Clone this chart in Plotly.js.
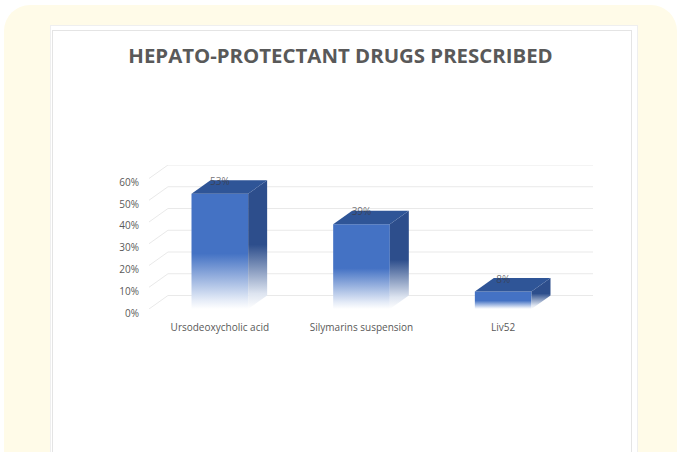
<!DOCTYPE html>
<html>
<head>
<meta charset="utf-8">
<script src="https://cdn.plot.ly/plotly-3.0.1.min.js"></script>
<style>
  html, body { margin:0; padding:0; background:#ffffff; width:677px; height:452px; overflow:hidden; }
  #cream { position:absolute; left:4px; top:5px; width:673px; height:520px; background:#fffbe8; border-radius:26px; }
  #card { position:absolute; left:50px; top:25px; width:586px; height:500px; background:#ffffff; border:1px solid #efefef; }
  #inner { position:absolute; left:52px; top:30px; width:578px; height:500px; background:#ffffff; border:1px solid #e4e4e4; }
  #chart { position:absolute; left:0; top:0; width:677px; height:452px; }
</style>
</head>
<body>
<div id="cream"></div>
<div id="card"></div>
<div id="inner"></div>
<div id="chart"></div>
<script>
// ---- data ----
const categories = ["Ursodeoxycholic acid", "Silymarins suspension", "Liv52"];
const values = [53, 39, 8];           // percent
const valueLabels = ["53%", "39%", "8%"];
const yTicks = [0, 10, 20, 30, 40, 50, 60];
const yTickLabels = ["0%", "10%", "20%", "30%", "40%", "50%", "60%"];
const chartTitle = "HEPATO-PROTECTANT DRUGS PRESCRIBED";

// ---- 3D projection settings (styling) ----
const barW = 0.40;   // bar width in category units
const dX = 0.134;    // depth offset in category units
const dY = 6.2;      // depth offset in value units
const yMax = 60;

const frontColor = "#4472C4";
const sideColor = "#2D4E8C";
const topColor = "#2F5597";
const gridColor = "#e9e9e9";

const traces = [];

// gridlines (side wall diagonal + back wall horizontal)
const gx = [], gy = [];
yTicks.forEach(v => {
  gx.push(-0.5, -0.5 + dX, 2.5 + dX, null);
  gy.push(v, v + dY, v + dY, null);
});
traces.push({type:"scatter", mode:"lines", x:gx, y:gy, line:{color:gridColor, width:1},
  hoverinfo:"skip", showlegend:false, cliponaxis:false});

categories.forEach((c, i) => {
  const v = values[i];
  const x0 = i - barW/2, x1 = i + barW/2;
  // front face
  traces.push({type:"scatter", mode:"lines", x:[x0, x1, x1, x0, x0], y:[0, 0, v, v, 0],
    fill:"toself", line:{width:0, color:"rgba(0,0,0,0)"},
    fillgradient:{type:"vertical", colorscale:[[0,"#ffffff"],[0.08,"#e4ebf7"],[0.48,frontColor],[1,frontColor]]},
    hoverinfo:"skip", showlegend:false});
  // side face
  traces.push({type:"scatter", mode:"lines", x:[x1, x1 + dX, x1 + dX, x1, x1], y:[0, dY, v + dY, v, 0],
    fill:"toself", line:{width:0, color:"rgba(0,0,0,0)"},
    fillgradient:{type:"vertical", colorscale:[[0,"#ffffff"],[0.12,"#dde4f0"],[0.5,sideColor],[1,sideColor]]},
    hoverinfo:"skip", showlegend:false});
  // top face
  traces.push({type:"scatter", mode:"lines", x:[x0, x1, x1 + dX, x0 + dX, x0], y:[v, v, v + dY, v + dY, v],
    fill:"toself", fillcolor:topColor, line:{width:0, color:"rgba(0,0,0,0)"},
    hoverinfo:"skip", showlegend:false});
});

// value labels
traces.push({type:"scatter", mode:"text",
  x:categories.map((c, i) => i), y:values.map(v => v + dY * 0.85),
  text:valueLabels, textposition:"middle center",
  textfont:{family:"Open Sans, sans-serif", size:10, color:"rgba(60,60,70,0.75)"},
  hoverinfo:"skip", showlegend:false, cliponaxis:false});

const layout = {
  width:677, height:452,
  paper_bgcolor:"rgba(0,0,0,0)", plot_bgcolor:"rgba(0,0,0,0)",
  margin:{l:149, r:84, t:165, b:143},
  title:{text:"<b>" + chartTitle + "</b>", x:0.503, xanchor:"center", y:0.876, yanchor:"middle",
    font:{family:"Open Sans, sans-serif", size:20.4, color:"#595959"}},
  xaxis:{range:[-0.5, 2.5 + dX], tickvals:categories.map((c, i) => i), ticktext:categories,
    showgrid:false, zeroline:false, showline:false, ticks:"", ticklabelstandoff:11,
    tickfont:{family:"Open Sans, sans-serif", size:10, color:"#595959"}, fixedrange:true},
  yaxis:{range:[0, yMax + dY], tickvals:yTicks, ticktext:yTickLabels,
    showgrid:false, zeroline:false, showline:false, ticks:"", ticklabelstandoff:9, ticklabelshift:4,
    tickfont:{family:"Open Sans, sans-serif", size:10, color:"#595959"}, fixedrange:true},
  showlegend:false
};

Plotly.newPlot("chart", traces, layout, {displayModeBar:false, staticPlot:true});
</script>
</body>
</html>
